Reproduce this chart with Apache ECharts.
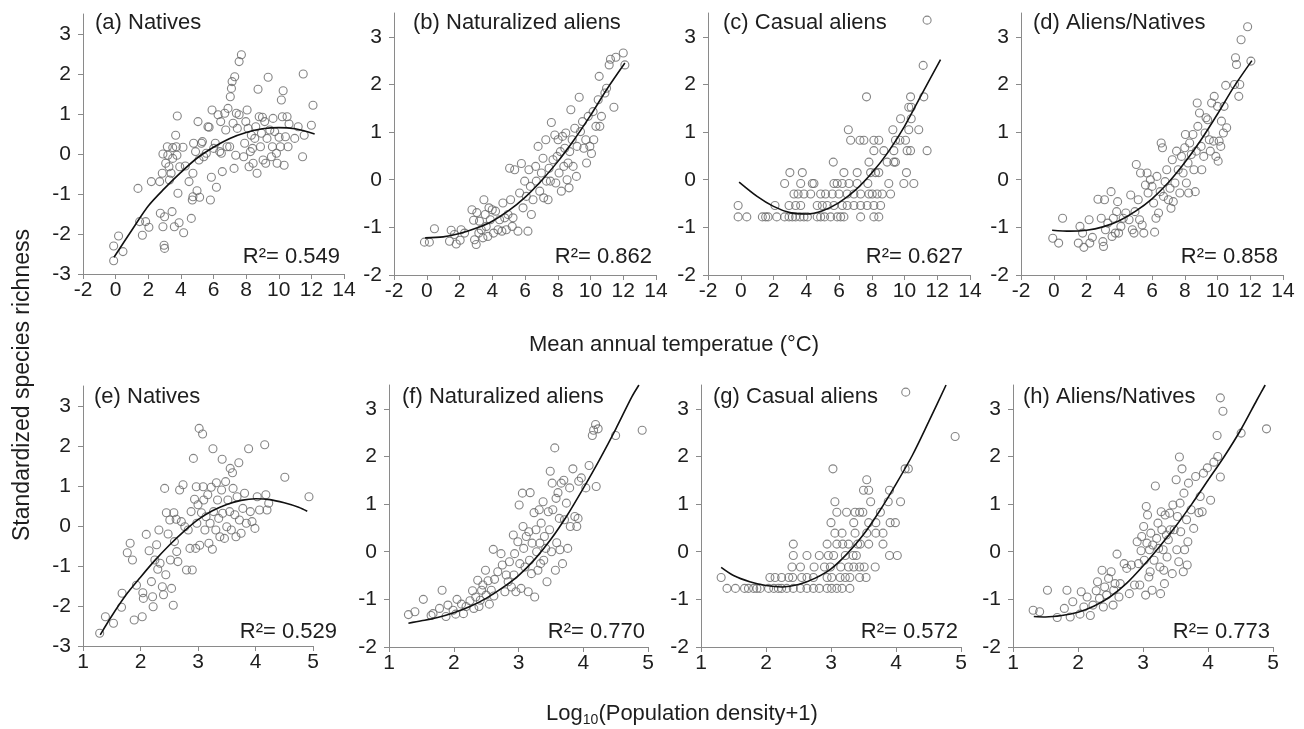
<!DOCTYPE html>
<html>
<head>
<meta charset="utf-8">
<title>Species richness vs temperature and population density</title>
<script src="https://cdn.jsdelivr.net/npm/echarts@6/dist/echarts.min.js"></script>
<style>
  html, body { margin: 0; padding: 0; background: #fff; }
  #chart { width: 1304px; height: 729px; }
</style>
</head>
<body>
<div id="chart"></div>
<script>
// tick labels
const tempTicks = [-2, 0, 2, 4, 6, 8, 10, 12, 14]
const popTicks = [1, 2, 3, 4, 5]
const yTicksWide = [-3, -2, -1, 0, 1, 2, 3]
const yTicksNarrow = [-2, -1, 0, 1, 2, 3]

const panelTitles = ['(a) Natives', '(b) Naturalized aliens', '(c) Casual aliens', '(d) Aliens/Natives',
  '(e) Natives', '(f) Naturalized aliens', '(g) Casual aliens', '(h) Aliens/Natives']
const r2Values = ['0.549', '0.862', '0.627', '0.858', '0.529', '0.770', '0.572', '0.773']

// (a) natives vs temperature
const aPts = [[-0.12,-2.67],[-0.12,-2.3],[0.18,-2.05],[0.45,-2.44],[1.37,-0.86],[1.47,-1.69],[1.64,-2.03],[1.84,-1.69],[2.04,-1.83],[2.19,-0.69],[2.7,-0.69],[2.74,-1.48],[2.86,-0.48],[2.9,-1.82],[2.97,-2.28],[3.0,-2.36],[3.0,-1.57],[2.9,0.0],[3.07,-0.23],[3.17,0.18],[3.2,-0.03],[3.27,-0.32],[3.3,-0.65],[3.4,-0.48],[3.46,-1.44],[3.5,0.16],[3.5,-0.11],[3.6,-1.82],[3.68,0.47],[3.72,0.18],[3.76,-0.03],[3.78,0.95],[3.82,-0.98],[3.89,-1.72],[3.93,-0.32],[4.13,0.17],[4.17,-1.97],[4.27,-0.3],[4.5,-0.69],[4.64,-1.61],[4.7,-1.15],[4.74,-0.48],[4.74,-1.07],[4.78,0.27],[4.9,0.06],[4.99,-0.92],[5.05,0.81],[5.11,-0.15],[5.15,-1.08],[5.26,0.27],[5.32,0.31],[5.4,-0.07],[5.56,0.02],[5.66,0.68],[5.73,0.67],[5.81,-1.15],[5.87,-0.58],[5.91,1.1],[6.01,0.14],[6.11,0.27],[6.18,-0.83],[6.28,0.98],[6.38,0.06],[6.44,0.81],[6.48,0.02],[6.54,-0.44],[6.69,1.02],[6.75,0.6],[6.83,0.18],[6.89,1.14],[6.99,0.18],[7.03,1.43],[7.1,1.64],[7.14,1.81],[7.2,0.77],[7.26,-0.36],[7.3,1.93],[7.36,-0.03],[7.4,1.02],[7.46,0.64],[7.57,0.98],[7.57,2.31],[7.71,2.48],[7.85,-0.07],[7.91,0.27],[7.98,0.81],[8.06,1.1],[8.12,0.64],[8.18,-0.32],[8.26,0.06],[8.32,0.47],[8.39,0.14],[8.43,-0.23],[8.53,0.39],[8.59,0.68],[8.67,-0.48],[8.73,1.62],[8.8,0.93],[8.88,0.18],[8.94,0.52],[9.0,0.92],[9.04,-0.15],[9.14,0.81],[9.2,-0.23],[9.28,0.39],[9.35,1.92],[9.45,0.6],[9.55,-0.07],[9.61,0.18],[9.65,0.89],[9.75,0.56],[9.86,0.02],[9.9,-0.23],[10.02,0.42],[10.1,0.18],[10.16,1.35],[10.22,0.93],[10.27,1.58],[10.33,-0.28],[10.41,0.43],[10.51,0.93],[10.57,0.18],[10.63,0.75],[10.98,0.39],[11.19,0.68],[11.5,2.0],[11.46,-0.07],[11.56,0.47],[12.0,0.72],[12.1,1.22]]
const aFit = [[-0.1,-2.58],[1,-1.9],[2,-1.3],[3,-0.86],[4,-0.46],[5,-0.1],[6,0.17],[7,0.39],[8,0.54],[9,0.63],[10,0.66],[11,0.63],[12.2,0.5]]

// (b) naturalized aliens vs temperature
const bPts = [[-0.14,-1.31],[0.16,-1.31],[0.47,-1.03],[1.49,-1.06],[1.39,-1.29],[1.69,-1.15],[1.8,-1.35],[2.04,-1.27],[2.1,-1.05],[2.31,-1.12],[2.76,-0.63],[2.86,-0.85],[2.92,-1.26],[3.02,-1.36],[3.06,-0.69],[3.18,-1.12],[3.22,-0.87],[3.33,-1.05],[3.43,-1.22],[3.49,-0.42],[3.57,-0.73],[3.63,-0.98],[3.73,-1.19],[3.8,-0.59],[3.88,-0.84],[4.0,-0.63],[4.08,-1.12],[4.2,-0.66],[4.35,-1.05],[4.45,-0.84],[4.59,-1.08],[4.65,-0.49],[4.76,-0.8],[4.86,-1.05],[4.96,-0.73],[5.06,0.24],[5.12,-0.42],[5.22,-0.98],[5.27,-0.8],[5.37,0.21],[5.57,-1.08],[5.67,-0.28],[5.78,0.34],[5.88,-0.59],[5.98,-0.03],[6.08,-0.35],[6.18,-1.08],[6.24,0.21],[6.33,-0.14],[6.39,-0.73],[6.49,-0.42],[6.65,0.28],[6.69,-0.03],[6.8,0.7],[6.9,-0.24],[7.0,0.14],[7.1,0.45],[7.14,-0.38],[7.27,0.84],[7.31,-0.03],[7.41,-0.42],[7.47,0.24],[7.55,-0.03],[7.61,1.2],[7.71,0.42],[7.82,0.94],[7.88,-0.07],[7.96,0.49],[8.02,0.84],[8.08,0.14],[8.16,0.59],[8.22,-0.24],[8.29,0.91],[8.37,0.28],[8.43,0.66],[8.49,0.98],[8.57,0.0],[8.63,0.35],[8.69,-0.17],[8.73,0.59],[8.8,1.47],[8.88,0.84],[8.94,0.28],[9.04,1.08],[9.14,0.07],[9.18,0.7],[9.31,1.73],[9.39,1.01],[9.51,1.22],[9.59,0.66],[9.71,0.84],[9.76,0.35],[9.86,1.33],[9.96,0.7],[10.06,0.55],[10.16,1.43],[10.2,0.84],[10.33,1.12],[10.47,1.68],[10.53,2.17],[10.57,1.12],[10.67,1.33],[10.88,1.82],[10.98,1.92],[11.14,2.41],[11.22,2.53],[11.43,1.52],[11.55,2.57],[12.0,2.66],[12.1,2.41]]
const bFit = [[-0.1,-1.22],[1,-1.2],[2,-1.13],[3,-1.02],[4,-0.87],[5,-0.65],[6,-0.37],[7,-0.02],[8,0.38],[9,0.84],[10,1.35],[11,1.9],[12.1,2.45]]

// (c) casual aliens vs temperature
const cPts = [[-0.16,-0.78],[0.37,-0.78],[1.32,-0.78],[1.52,-0.78],[1.67,-0.78],[2.2,-0.78],[2.68,-0.78],[2.95,-0.78],[3.15,-0.78],[3.35,-0.78],[3.62,-0.78],[3.86,-0.78],[4.07,-0.78],[4.67,-0.78],[4.88,-0.78],[5.12,-0.78],[5.49,-0.78],[5.89,-0.78],[6.1,-0.78],[6.3,-0.78],[7.32,-0.78],[8.13,-0.78],[8.43,-0.78],
  [-0.16,-0.54],[2.09,-0.54],[2.95,-0.54],[3.35,-0.54],[3.66,-0.54],[4.67,-0.54],[4.98,-0.54],[5.28,-0.54],[5.69,-0.54],[6.2,-0.54],[6.5,-0.54],[6.91,-0.54],[7.32,-0.54],[7.72,-0.54],[8.13,-0.54],[8.54,-0.54],
  [3.25,-0.3],[3.5,-0.3],[3.86,-0.3],[4.27,-0.3],[4.88,-0.3],[5.18,-0.3],[5.59,-0.3],[6.0,-0.3],[6.5,-0.3],[6.91,-0.3],[7.32,-0.3],[7.83,-0.3],[8.03,-0.3],[8.33,-0.3],[8.64,-0.3],[9.15,-0.3],
  [2.68,-0.08],[3.66,-0.08],[4.37,-0.08],[4.47,-0.08],[5.69,-0.08],[5.89,-0.08],[6.2,-0.08],[6.61,-0.08],[7.11,-0.08],[7.76,-0.08],[9.04,-0.08],[9.96,-0.08],[10.57,-0.08],
  [3.0,0.15],[3.76,0.15],[6.3,0.15],[7.11,0.15],[7.93,0.15],[8.23,0.15],[8.43,0.15],[10.12,0.15],
  [5.65,0.37],[7.83,0.37],[8.94,0.37],[9.35,0.37],[9.45,0.37],
  [8.13,0.61],[8.74,0.61],[9.35,0.61],[10.16,0.61],[10.37,0.61],[11.38,0.61],
  [6.71,0.83],[7.28,0.83],[7.52,0.83],[8.13,0.83],[8.43,0.83],[9.45,0.83],[9.72,0.83],[10.06,0.83],
  [6.57,1.05],[9.29,1.05],[10.26,1.05],[10.87,1.05],
  [9.76,1.28],[10.41,1.28],[10.26,1.52],[10.41,1.52],
  [7.68,1.74],[10.37,1.74],[11.18,1.74],[11.14,2.4],[11.38,3.35]]
const cFit = [[-0.1,-0.05],[1,-0.35],[2,-0.56],[3,-0.69],[4,-0.72],[5,-0.65],[6,-0.48],[7,-0.22],[8,0.14],[9,0.58],[10,1.12],[11,1.76],[12.2,2.52]]

// (d) aliens/natives vs temperature
const dPts = [[-0.06,-1.23],[0.3,-1.33],[0.54,-0.81],[1.5,-1.33],[1.6,-0.98],[1.76,-1.12],[1.84,-1.42],[2.16,-0.84],[2.2,-1.33],[2.36,-1.21],[2.7,-0.41],[2.9,-0.81],[3.0,-1.3],[3.04,-1.4],[3.1,-0.42],[3.16,-1.05],[3.3,-0.91],[3.5,-0.25],[3.56,-1.19],[3.64,-0.81],[3.76,-1.12],[3.84,-0.67],[3.9,-0.46],[3.96,-1.12],[4.1,-0.98],[4.24,-0.81],[4.4,-0.7],[4.6,-0.84],[4.7,-0.32],[4.8,-1.05],[4.9,-1.12],[4.96,-0.67],[5.04,0.32],[5.16,-0.42],[5.24,-0.84],[5.3,0.14],[5.4,-0.95],[5.5,-1.12],[5.6,-0.11],[5.7,0.14],[5.76,-0.28],[5.9,0.0],[6.0,-0.14],[6.1,-0.49],[6.16,-1.1],[6.24,-0.81],[6.3,0.07],[6.4,-0.7],[6.5,-0.25],[6.56,0.77],[6.64,0.67],[6.7,-0.35],[6.8,-0.04],[6.9,0.21],[7.0,-0.42],[7.1,-0.18],[7.16,-0.6],[7.24,0.42],[7.3,-0.46],[7.4,-0.07],[7.5,0.6],[7.6,0.21],[7.7,-0.28],[7.8,0.49],[7.9,0.14],[8.0,0.67],[8.04,0.95],[8.1,-0.07],[8.2,0.35],[8.24,-0.28],[8.3,0.77],[8.4,0.53],[8.5,0.95],[8.56,0.21],[8.64,-0.25],[8.7,0.6],[8.76,1.61],[8.8,1.12],[8.9,1.4],[9.0,0.7],[9.04,0.21],[9.16,0.49],[9.24,0.98],[9.3,1.3],[9.4,1.26],[9.5,0.84],[9.56,0.6],[9.64,1.61],[9.76,0.81],[9.8,1.75],[9.9,0.49],[10.0,1.54],[10.04,0.39],[10.1,0.81],[10.2,0.7],[10.24,1.23],[10.36,0.98],[10.4,1.54],[10.5,1.98],[10.56,1.09],[11.04,2.0],[11.1,2.56],[11.16,2.42],[11.3,1.75],[11.36,2.0],[11.44,2.94],[11.84,3.21],[12.04,2.49]]
const dFit = [[-0.1,-1.06],[1,-1.08],[2,-1.06],[3,-0.99],[4,-0.86],[5,-0.66],[6,-0.4],[7,-0.06],[8,0.36],[9,0.84],[10,1.38],[11,1.95],[12.1,2.5]]

// (e) natives vs population density
const ePts = [[1.29,-2.68],[1.39,-2.27],[1.53,-2.43],[1.67,-2.03],[1.68,-1.68],[1.77,-0.67],[1.82,-0.43],[1.86,-0.85],[1.89,-2.35],[1.93,-1.48],[2.03,-2.27],[2.04,-1.67],[2.05,-1.81],[2.1,-0.21],[2.15,-0.62],[2.19,-1.39],[2.21,-1.77],[2.22,-2.02],[2.25,-0.85],[2.28,-0.47],[2.3,-1.08],[2.32,-0.1],[2.34,-0.93],[2.38,-1.52],[2.4,-1.72],[2.42,0.94],[2.44,-1.22],[2.45,0.33],[2.48,-0.2],[2.51,0.15],[2.52,-0.85],[2.54,-1.56],[2.57,-1.98],[2.58,0.33],[2.59,-0.39],[2.62,0.17],[2.63,-0.64],[2.65,-0.89],[2.68,0.9],[2.71,0.11],[2.74,1.03],[2.77,-0.02],[2.8,-1.1],[2.83,-0.1],[2.86,-0.56],[2.88,0.36],[2.9,-1.1],[2.92,1.69],[2.94,0.67],[2.96,-0.56],[2.97,0.98],[2.98,0.07],[3.0,0.53],[3.02,2.44],[3.03,-0.48],[3.06,0.33],[3.08,2.3],[3.09,0.98],[3.1,0.65],[3.12,-0.1],[3.14,0.23],[3.17,0.78],[3.19,-0.43],[3.21,0.07],[3.23,0.97],[3.25,-0.58],[3.26,1.93],[3.27,0.36],[3.31,-0.1],[3.32,1.08],[3.34,0.65],[3.36,0.19],[3.38,-0.27],[3.41,0.9],[3.42,1.67],[3.43,0.32],[3.46,-0.31],[3.48,1.11],[3.5,-0.02],[3.52,0.65],[3.55,0.36],[3.56,1.44],[3.58,-0.1],[3.6,1.33],[3.61,0.94],[3.64,0.28],[3.66,-0.27],[3.68,0.73],[3.71,1.58],[3.72,0.15],[3.75,-0.18],[3.78,0.44],[3.81,0.82],[3.84,0.07],[3.88,1.93],[3.91,0.36],[3.94,0.11],[3.99,-0.06],[4.03,0.73],[4.07,0.4],[4.16,2.03],[4.18,0.78],[4.2,0.4],[4.23,0.57],[4.51,1.22],[4.93,0.73]]
const eFit = [[1.3,-2.72],[1.5,-2.25],[1.75,-1.72],[2,-1.28],[2.25,-0.86],[2.5,-0.48],[2.75,-0.14],[3,0.16],[3.25,0.38],[3.5,0.54],[3.75,0.64],[4,0.68],[4.25,0.66],[4.5,0.58],[4.75,0.47],[4.9,0.37]]

// (f) naturalized aliens vs population density
const fPts = [[1.3,-1.32],[1.4,-1.26],[1.53,-1.0],[1.65,-1.34],[1.68,-1.3],[1.78,-1.19],[1.82,-0.81],[1.88,-1.36],[1.91,-1.12],[1.99,-1.23],[2.03,-1.31],[2.05,-1.0],[2.12,-1.1],[2.15,-1.3],[2.19,-1.15],[2.25,-1.03],[2.29,-0.82],[2.31,-1.19],[2.34,-0.95],[2.37,-0.6],[2.39,-1.15],[2.41,-1.02],[2.43,-0.81],[2.45,-0.7],[2.49,-0.39],[2.5,-0.91],[2.53,-0.61],[2.55,-1.1],[2.58,-0.81],[2.61,0.05],[2.62,-0.93],[2.63,-0.58],[2.68,-0.42],[2.73,-0.04],[2.75,-0.28],[2.79,-0.84],[2.81,-0.49],[2.84,-0.63],[2.86,-0.21],[2.89,-0.74],[2.92,0.35],[2.93,-0.49],[2.94,-0.04],[2.96,-0.84],[2.99,0.21],[3.01,0.98],[3.02,-0.25],[3.04,-0.77],[3.06,1.23],[3.07,0.53],[3.08,0.07],[3.1,-0.32],[3.12,0.32],[3.15,-0.84],[3.16,0.42],[3.17,-0.18],[3.18,1.24],[3.2,-0.46],[3.21,0.18],[3.24,0.82],[3.25,-0.95],[3.27,0.46],[3.28,0.0],[3.3,-0.39],[3.32,0.88],[3.33,0.18],[3.34,-0.25],[3.35,0.6],[3.38,1.05],[3.39,-0.18],[3.4,0.32],[3.42,0.07],[3.44,-0.63],[3.46,0.84],[3.48,0.46],[3.49,1.69],[3.51,0.0],[3.52,1.44],[3.53,0.88],[3.56,2.18],[3.57,-0.39],[3.58,1.12],[3.59,0.19],[3.61,1.24],[3.63,0.7],[3.64,0.04],[3.66,1.44],[3.68,-0.25],[3.7,1.5],[3.71,0.67],[3.74,1.02],[3.76,0.07],[3.79,1.34],[3.8,0.53],[3.84,1.74],[3.87,0.74],[3.9,0.53],[3.92,0.7],[3.93,1.48],[3.97,1.55],[4.04,1.34],[4.09,1.81],[4.14,2.44],[4.16,2.55],[4.19,2.67],[4.23,2.58],[4.2,1.37],[4.5,2.44],[4.91,2.55]]
const fFit = [[1.3,-1.5],[1.5,-1.45],[1.75,-1.38],[2,-1.28],[2.25,-1.15],[2.5,-0.98],[2.75,-0.76],[3,-0.5],[3.25,-0.16],[3.5,0.26],[3.75,0.76],[4,1.33],[4.25,1.93],[4.5,2.57],[4.75,3.25],[4.86,3.5]]

// (g) casual aliens vs population density
const gPts = [[1.4,-0.77],[1.53,-0.77],[1.67,-0.77],[1.73,-0.77],[1.81,-0.77],[1.86,-0.77],[1.91,-0.77],[2.04,-0.77],[2.12,-0.77],[2.19,-0.77],[2.24,-0.77],[2.32,-0.77],[2.42,-0.77],[2.53,-0.77],[2.63,-0.77],[2.73,-0.77],[2.82,-0.77],[2.94,-0.77],[3.01,-0.77],[3.09,-0.77],[3.17,-0.77],[3.29,-0.77],
  [1.31,-0.54],[2.06,-0.54],[2.14,-0.54],[2.24,-0.54],[2.35,-0.54],[2.41,-0.54],[2.55,-0.54],[2.63,-0.54],[2.73,-0.54],[2.94,-0.54],[3.01,-0.54],[3.14,-0.54],[3.22,-0.54],[3.29,-0.54],[3.44,-0.54],[3.54,-0.54],
  [2.4,-0.32],[2.53,-0.32],[2.74,-0.32],[2.9,-0.32],[2.99,-0.32],[3.15,-0.32],[3.27,-0.32],[3.35,-0.32],[3.44,-0.32],[3.51,-0.32],[3.68,-0.32],
  [2.42,-0.08],[2.63,-0.08],[2.82,-0.08],[2.96,-0.08],[3.04,-0.08],[3.22,-0.08],[3.34,-0.08],[3.39,-0.08],[3.9,-0.08],[4.02,-0.08],
  [2.42,0.16],[2.94,0.16],[3.09,0.16],[3.18,0.16],[3.27,0.16],[3.41,0.16],[3.45,0.16],[3.58,0.16],[3.8,0.16],
  [3.06,0.39],[3.17,0.39],[3.37,0.39],[3.55,0.39],[3.69,0.39],[3.8,0.39],
  [3.0,0.61],[3.35,0.61],[3.58,0.61],[3.69,0.61],[3.91,0.61],[3.99,0.61],
  [3.09,0.83],[3.24,0.83],[3.37,0.83],[3.44,0.83],[3.49,0.83],[3.76,0.83],
  [3.06,1.05],[3.61,1.05],[3.88,1.05],[4.07,1.05],
  [3.5,1.29],[3.58,1.29],[3.9,1.29],[3.55,1.51],
  [3.03,1.74],[4.14,1.74],[4.19,1.74],[4.91,2.42],[4.15,3.35]]
const gFit = [[1.31,-0.33],[1.5,-0.5],[1.75,-0.63],[2,-0.71],[2.25,-0.74],[2.5,-0.69],[2.75,-0.56],[3,-0.36],[3.25,-0.04],[3.5,0.36],[3.75,0.86],[4,1.42],[4.25,2.02],[4.5,2.72],[4.77,3.5]]

// (h) aliens/natives vs population density
const hPts = [[1.31,-1.23],[1.41,-1.26],[1.53,-0.81],[1.68,-1.38],[1.79,-1.19],[1.83,-0.81],[1.88,-1.37],[1.92,-1.05],[2.03,-1.31],[2.05,-0.84],[2.09,-1.16],[2.14,-0.95],[2.19,-1.34],[2.23,-1.12],[2.28,-0.82],[2.3,-0.63],[2.33,-0.98],[2.37,-0.39],[2.39,-1.16],[2.41,-0.74],[2.44,-0.91],[2.47,-0.56],[2.51,-0.42],[2.54,-1.12],[2.55,-0.81],[2.57,-0.67],[2.6,-0.05],[2.63,-0.95],[2.65,-0.67],[2.71,-0.25],[2.75,-0.35],[2.79,-0.88],[2.82,-0.28],[2.87,-0.7],[2.91,0.21],[2.93,-0.25],[2.95,-0.7],[2.97,0.02],[2.98,0.32],[3.01,0.53],[3.02,-0.18],[3.04,-0.91],[3.05,0.95],[3.06,0.18],[3.07,0.77],[3.09,-0.53],[3.1,0.04],[3.11,-0.42],[3.12,0.39],[3.14,-0.81],[3.15,0.14],[3.17,-0.18],[3.19,1.38],[3.21,0.28],[3.23,0.6],[3.24,0.07],[3.26,-0.32],[3.27,-0.88],[3.28,0.84],[3.29,0.46],[3.31,0.04],[3.32,-0.39],[3.33,-0.67],[3.34,0.77],[3.36,0.35],[3.37,-0.11],[3.39,0.25],[3.41,0.81],[3.42,0.46],[3.45,-0.46],[3.46,0.98],[3.48,0.46],[3.51,1.51],[3.52,0.04],[3.53,0.74],[3.55,-0.21],[3.56,1.99],[3.57,1.02],[3.58,0.42],[3.6,1.74],[3.62,-0.42],[3.63,1.23],[3.64,0.04],[3.67,0.67],[3.68,-0.28],[3.69,0.21],[3.7,1.44],[3.74,0.88],[3.78,0.49],[3.81,1.58],[3.86,0.82],[3.88,1.16],[3.91,0.84],[3.93,1.65],[3.99,1.76],[4.04,1.08],[4.09,1.88],[4.14,2.44],[4.15,2.0],[4.19,1.57],[4.19,3.23],[4.23,2.95],[4.51,2.49],[4.9,2.58]]
const hFit = [[1.32,-1.36],[1.5,-1.37],[1.75,-1.34],[2,-1.27],[2.25,-1.14],[2.5,-0.94],[2.75,-0.66],[3,-0.3],[3.25,0.1],[3.5,0.53],[3.75,1.0],[4,1.5],[4.25,2.0],[4.5,2.55],[4.75,3.18],[4.88,3.5]]

const FONT = '"Liberation Sans", Arial, sans-serif'
const TXT = '#1e1e1e'
const AXIS = '#8a8a8a'

// grid boxes in px: [left, top, width, height]
const boxes = [
  [83, 14, 261, 260], [394, 13, 262, 262], [708, 13, 262, 262], [1021, 13, 262, 262],
  [83, 386, 230, 260], [389, 385, 259, 262], [701, 385, 260, 262], [1013, 385, 260, 262]
]
const titlePos = [[95, 23], [413, 23], [723, 23], [1033, 23], [94, 397], [402, 397], [713, 397], [1023, 397]]
const r2Pos = [[340, 257], [652, 257], [963, 257], [1278, 257], [337, 632], [645, 632], [958, 632], [1270, 632]]

const allPts = [aPts, bPts, cPts, dPts, ePts, fPts, gPts, hPts]
const allFits = [aFit, bFit, cFit, dFit, eFit, fFit, gFit, hFit]

function buildOption() {
  const grid = [], xAxis = [], yAxis = [], series = [], graphic = []
  for (let i = 0; i < 8; i++) {
    const b = boxes[i]
    const isTemp = i < 4
    const xt = isTemp ? tempTicks : popTicks
    const yt = (i === 0 || i === 4) ? yTicksWide : yTicksNarrow
    grid.push({ left: b[0], top: b[1], width: b[2], height: b[3], containLabel: false })
    xAxis.push({
      type: 'value', gridIndex: i,
      min: xt[0], max: xt[xt.length - 1], interval: xt[1] - xt[0],
      axisLine: { onZero: false, lineStyle: { color: AXIS, width: 1 } },
      axisTick: { show: true, length: 5, lineStyle: { color: AXIS } },
      axisLabel: { color: TXT, fontSize: 21, fontFamily: FONT, margin: 6 },
      splitLine: { show: false }
    })
    yAxis.push({
      type: 'value', gridIndex: i,
      min: yt[0], max: 3.5,
      axisLine: { show: true, onZero: false, lineStyle: { color: AXIS, width: 1 } },
      axisTick: { show: true, length: 5, lineStyle: { color: AXIS }, customValues: yt },
      axisLabel: { color: TXT, fontSize: 21, fontFamily: FONT, margin: 12, customValues: yt },
      splitLine: { show: false }
    })
    // points
    series.push({
      type: 'scatter', xAxisIndex: i, yAxisIndex: i,
      data: allPts[i], symbol: 'circle', symbolSize: 8,
      itemStyle: { color: 'rgba(255,255,255,0)', borderColor: '#666', borderWidth: 1.1 },
      silent: true
    })
    // fitted curve
    series.push({
      type: 'line', xAxisIndex: i, yAxisIndex: i,
      data: allFits[i], smooth: 0.3, showSymbol: false, symbol: 'none',
      lineStyle: { color: '#111', width: 1.6 }, z: 5, silent: true
    })
    graphic.push({
      type: 'text', x: titlePos[i][0], y: titlePos[i][1],
      style: { text: panelTitles[i], fill: TXT, font: '22px ' + FONT, align: 'left', verticalAlign: 'middle' }
    })
    graphic.push({
      type: 'text', x: r2Pos[i][0], y: r2Pos[i][1],
      style: { text: 'R²= ' + r2Values[i], fill: TXT, font: '22px ' + FONT, align: 'right', verticalAlign: 'middle' }
    })
  }
  // shared axis titles
  graphic.push({
    type: 'text', x: 23, y: 385, rotation: Math.PI / 2,
    style: { text: 'Standardized species richness', fill: TXT, font: '23px ' + FONT, align: 'center', verticalAlign: 'middle' }
  })
  graphic.push({
    type: 'text', x: 674, y: 345,
    style: { text: 'Mean annual temperatue (°C)', fill: TXT, font: '22px ' + FONT, align: 'center', verticalAlign: 'middle' }
  })
  graphic.push({
    type: 'text', x: 682, y: 714,
    style: {
      text: 'Log{sub|10}(Population density+1)', fill: TXT, fontSize: 22, fontFamily: FONT,
      align: 'center', verticalAlign: 'middle',
      rich: { sub: { fontSize: 14, fontFamily: FONT, fill: TXT, padding: [12, 0, 0, 0] } }
    }
  })
  return { animation: false, backgroundColor: '#fff', grid, xAxis, yAxis, series, graphic }
}

let chart = echarts.init(document.getElementById('chart'), null, { renderer: 'canvas' })
chart.setOption(buildOption())
</script>
</body>
</html>
